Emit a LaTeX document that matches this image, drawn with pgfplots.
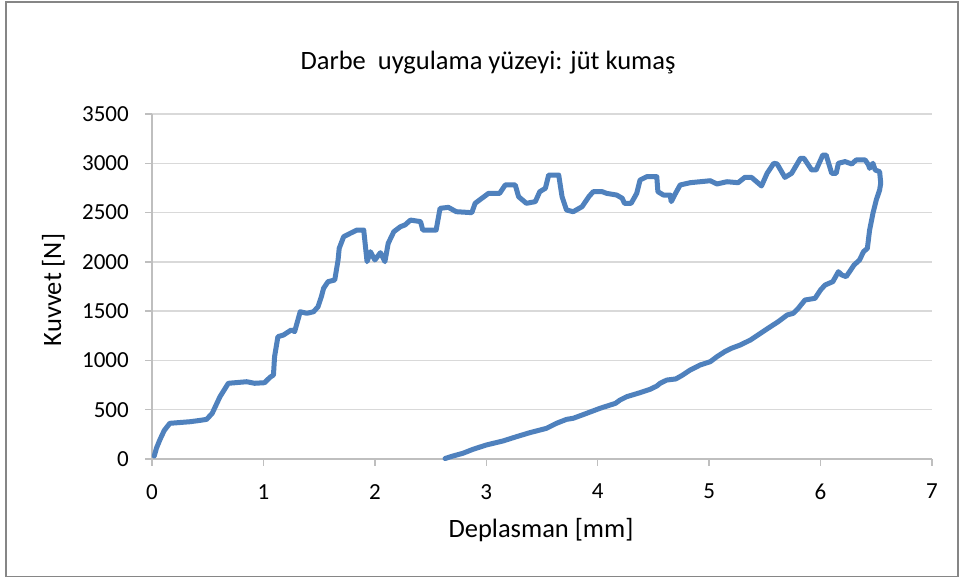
\documentclass[border=0pt]{standalone}
\usepackage{fontspec}
\setmainfont{Carlito}
\usepackage{pgfplots}
\pgfplotsset{compat=1.18}
\definecolor{xlblue}{RGB}{79,129,189}
\definecolor{xlgrid}{RGB}{217,217,217}
\definecolor{xlaxis}{RGB}{191,191,191}
\definecolor{xlframe}{RGB}{134,134,134}

\begin{document}
\begin{tikzpicture}[x=1pt,y=1pt]
\path[use as bounding box] (0,0) rectangle (960,578);
\fill[white] (0,0) rectangle (960,578);
\draw[xlframe, line width=1.5pt] (6,1.5) rectangle (958,576);

\begin{axis}[
  at={(152pt,119pt)}, anchor=south west,
  scale only axis, width=780pt, height=345pt,
  xmin=0, xmax=7, ymin=0, ymax=3500,
  xtick={0,1,...,7}, ytick={0,500,...,3500},
  axis x line*=bottom, axis y line*=left,
  axis line style={xlaxis, line width=1.5pt, -},
  ymajorgrids, grid style={xlgrid, line width=1.5pt},
  tick align=outside, major tick length=7pt,
  tick style={xlaxis, line width=1.5pt},
  xtick pos=bottom, ytick pos=left,
  /pgf/number format/assume math mode=true,
  /pgf/number format/1000 sep={},
  tick label style={font=\fontsize{23}{27}\selectfont, inner sep=0pt},
  xticklabel style={anchor=north, yshift=-18pt},
  yticklabel style={anchor=east, xshift=-16pt},
  clip=false,
]
\addplot[xlblue, line width=5pt, line join=round, line cap=round] coordinates {
(0.02,30) (0.04,110) (0.07,193) (0.11,290) (0.16,362) (0.25,370) (0.34,378)
(0.42,390) (0.49,402) (0.54,463) (0.61,632) (0.685,768) (0.85,784) (0.92,768)
(1.01,774) (1.06,830) (1.09,852) (1.10,1038) (1.13,1241) (1.18,1258) (1.25,1309)
(1.28,1292) (1.33,1494) (1.39,1478) (1.45,1494) (1.49,1545) (1.52,1647) (1.54,1732)
(1.58,1799) (1.64,1816) (1.67,2019) (1.68,2137) (1.72,2255) (1.78,2290) (1.84,2323)
(1.90,2323) (1.93,2002) (1.96,2103) (2.00,2019) (2.05,2093) (2.09,2002) (2.12,2188)
(2.17,2306) (2.23,2357) (2.27,2374) (2.32,2424) (2.41,2408) (2.43,2323) (2.55,2323)
(2.585,2543) (2.66,2553) (2.73,2509) (2.87,2499) (2.90,2594) (2.94,2628) (3.02,2695)
(3.12,2695) (3.17,2780) (3.26,2780) (3.29,2661) (3.36,2594) (3.44,2611) (3.48,2712)
(3.53,2746) (3.56,2881) (3.65,2881) (3.68,2661) (3.72,2526) (3.78,2509) (3.86,2560)
(3.92,2661) (3.96,2712) (4.04,2712) (4.08,2695) (4.17,2678) (4.22,2645) (4.24,2594)
(4.30,2594) (4.35,2695) (4.38,2830) (4.44,2864) (4.53,2864) (4.54,2712) (4.59,2678)
(4.65,2678) (4.66,2611) (4.69,2678) (4.74,2780) (4.83,2803) (5.01,2823) (5.07,2790)
(5.16,2813) (5.26,2803) (5.32,2857) (5.38,2857) (5.47,2770) (5.52,2898) (5.58,3000)
(5.61,2993) (5.68,2857) (5.74,2898) (5.82,3051) (5.85,3051) (5.92,2932) (5.96,2932)
(6.02,3084) (6.05,3084) (6.10,2898) (6.14,2898) (6.16,3000) (6.22,3017) (6.28,2993)
(6.32,3034) (6.40,3034) (6.43,2983) (6.44,2949) (6.47,3000) (6.49,2932) (6.53,2915)
(6.54,2800) (6.53,2729) (6.50,2628) (6.47,2493) (6.44,2323) (6.42,2137) (6.385,2103)
(6.35,2019) (6.30,1968) (6.27,1917) (6.23,1850) (6.19,1867) (6.16,1900) (6.11,1799)
(6.04,1765) (6.00,1715) (5.95,1630) (5.86,1613) (5.80,1529) (5.755,1478) (5.70,1461)
(5.62,1393) (5.55,1342) (5.46,1275) (5.37,1207) (5.28,1157) (5.20,1123) (5.14,1089)
(5.07,1038) (5.01,987) (4.92,954) (4.83,903) (4.76,850) (4.70,812) (4.62,801)
(4.56,768) (4.53,740) (4.47,707) (4.38,673) (4.26,632) (4.20,598) (4.16,565)
(4.02,514) (3.90,463) (3.78,413) (3.72,402) (3.63,362) (3.54,311) (3.39,267)
(3.27,226) (3.15,183) (3.00,142) (2.88,98) (2.79,58) (2.70,30) (2.63,5)
};
\end{axis}

\node[anchor=base, font=\fontsize{26.5}{31}\selectfont] at (488,508) {Darbe\ \ uygulama yüzeyi: jüt kumaş};
\node[anchor=base, font=\fontsize{26.5}{31}\selectfont] at (541,41) {Deplasman [mm]};
\node[anchor=base, rotate=90, font=\fontsize{26.5}{31}\selectfont] at (61,288) {Kuvvet [N]};
\end{tikzpicture}
\end{document}
